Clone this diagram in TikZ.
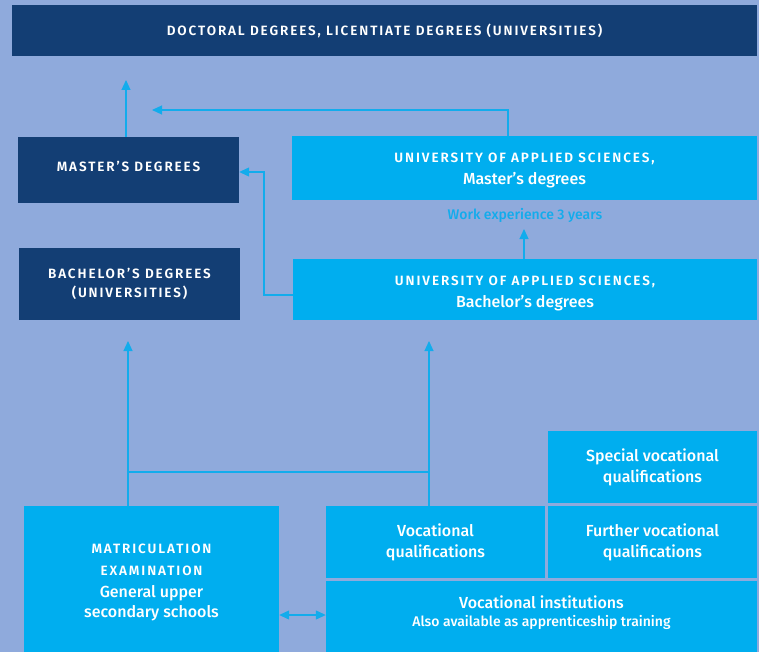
\documentclass[tikz,border=0pt]{standalone}
\usepackage{fontspec}
\setmainfont{Fira Sans Medium}[BoldFont={Fira Sans SemiBold}]
\usetikzlibrary{arrows.meta}
\definecolor{bg}{HTML}{8FAADC}
\definecolor{navy}{HTML}{133E74}
\definecolor{cyanbox}{HTML}{00AEEF}
\definecolor{cyanline}{HTML}{12ACEC}
\newcommand{\capt}[1]{{\fontsize{13.5}{15}\selectfont\bfseries\addfontfeatures{LetterSpace=14}#1}}
\begin{document}
\begin{tikzpicture}[x=1pt,y=-1pt,
  box/.style={inner sep=0pt, align=center, text=white, font=\fontsize{16}{21}\selectfont},
  darkbox/.style={box, fill=navy},
  lightbox/.style={box, fill=cyanbox},
  txt/.style={inner sep=0pt, align=center, text=white, font=\fontsize{16}{21}\selectfont},
  arr/.style={draw=cyanline, line width=1.2pt, -{Triangle[length=10pt,width=9pt]}},
  dbl/.style={draw=cyanline, line width=1.2pt, {Triangle[length=10pt,width=9pt]}-{Triangle[length=10pt,width=9pt]}},
  ln/.style={draw=cyanline, line width=1.2pt}]
\fill[bg] (0,0) rectangle (759,652);
\useasboundingbox (0,0) rectangle (759,652);

\node[darkbox, minimum width=745pt, minimum height=51pt] (doc) at (384.5,30.5)
  {\capt{DOCTORAL DEGREES, LICENTIATE DEGREES (UNIVERSITIES)}};
\node[darkbox, minimum width=221pt, minimum height=66pt] (master) at (128.5,170) {};
\node[txt] (mastert) at ([yshift=4pt]master.center) {\capt{MASTER’S DEGREES}};
\node[darkbox, minimum width=221pt, minimum height=72pt] (bach) at (129.5,284)
  {\capt{BACHELOR’S DEGREES}\\[-2pt]\capt{(UNIVERSITIES)}};
\node[lightbox, minimum width=465pt, minimum height=64pt] (uasm) at (524.5,168) {};
\node[txt] (uasmt) at ([yshift=-2.5pt]uasm.center)
  {\capt{UNIVERSITY OF APPLIED SCIENCES,}\\[1pt]Master’s degrees};
\node[lightbox, minimum width=464pt, minimum height=61pt] (uasb) at (525,289.5) {};
\node[txt] (uasbt) at ([yshift=-3.5pt]uasb.center)
  {\capt{UNIVERSITY OF APPLIED SCIENCES,}\\[1pt]Bachelor’s degrees};
\node[lightbox, minimum width=255pt, minimum height=146pt] (matric) at (151.5,579) {};
\node[txt] (matrict) at ([yshift=-3pt]matric.center)
  {\capt{MATRICULATION}\\[1pt]\capt{EXAMINATION}\\[1pt]General upper\\[-1pt]secondary schools};
\node[lightbox, minimum width=219pt, minimum height=72pt] (voc) at (435.5,542)
  {Vocational\\qualifications};
\node[lightbox, minimum width=209pt, minimum height=72pt] (spec) at (652.5,467)
  {Special vocational\\qualifications};
\node[lightbox, minimum width=209pt, minimum height=72pt] (furth) at (652.5,542)
  {Further vocational\\qualifications};
\node[lightbox, minimum width=431pt, minimum height=71pt] (inst) at (541.5,616.5) {};
\node[txt] (instt) at ([yshift=4pt]inst.center)
  {Vocational institutions\\[-3pt]{\fontsize{14}{16}\selectfont Also available as apprenticeship training}};

\node[text=cyanline, font=\fontsize{14}{16}\selectfont, inner sep=0pt] (work) at (525,215) {Work experience 3 years};

\coordinate (t1) at (126,80);
\coordinate (t2) at (152,110);
\coordinate (t3) at (524,229);
\coordinate (t4) at (128,341);
\coordinate (t5) at (429,341);
\coordinate (j1) at (128,472);
\coordinate (j2) at (429,472);

\draw[arr] (t1 |- master.north) -- (t1);
\draw[arr] (508,0 |- uasm.north) |- (t2);
\draw[arr] (uasb.west |- 0,295) -| (264,172) -- (master.east |- 0,172);
\draw[arr] (t3 |- uasb.north) -- (t3);
\draw[arr] (t4 |- matric.north) -- (t4);
\draw[arr] (t5 |- voc.north) -- (t5);
\draw[ln] (j1) -- (j2);
\draw[dbl] (matric.east |- 0,615) -- (inst.west |- 0,615);
\end{tikzpicture}
\end{document}
